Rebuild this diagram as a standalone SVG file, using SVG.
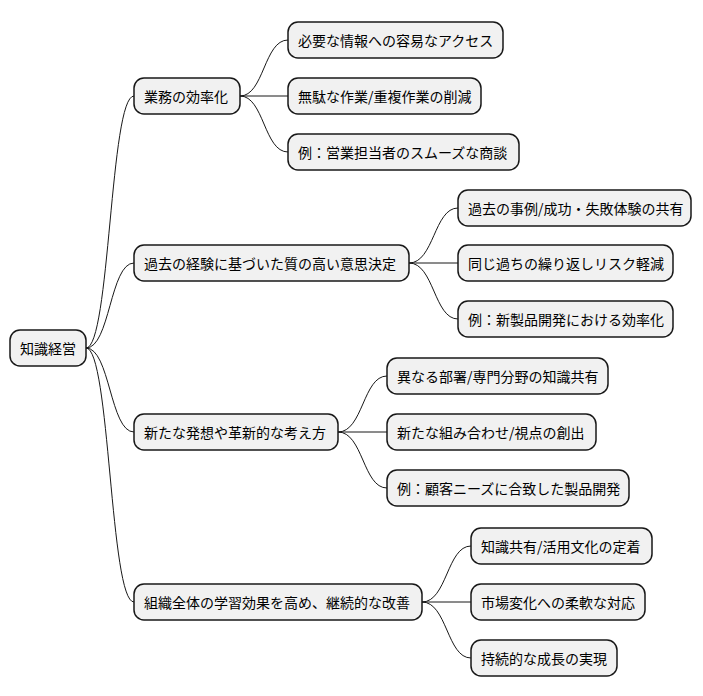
<svg xmlns="http://www.w3.org/2000/svg" width="703" height="696" viewBox="0 0 703 696">
<style>
rect{fill:#F1F1F1;stroke:#181818;stroke-width:1.5}
text{font-family:"Noto Sans CJK JP","Noto Sans CJK SC",sans-serif;font-size:14px;fill:#000;dominant-baseline:central}
#edges path{fill:none;stroke:#181818;stroke-width:1}
</style>
<rect width="703" height="696" style="fill:#fff;stroke:none"/>
<g id="edges">
<path d="M86 348 C110 348 110 96 134 96"/>
<path d="M86 348 C110 348 110 263 134 263"/>
<path d="M86 348 C110 348 110 432 134 432"/>
<path d="M86 348 C110 348 110 602 134 602"/>
<path d="M240 96 C264 96 264 40 288 40"/>
<path d="M240 96 L288 96"/>
<path d="M240 96 C264 96 264 152 288 152"/>
<path d="M409 263 C434 263 434 208 458 208"/>
<path d="M409 263 L458 263"/>
<path d="M409 263 C434 263 434 319 458 319"/>
<path d="M338 432 C363 432 363 376 387 376"/>
<path d="M338 432 L387 432"/>
<path d="M338 432 C363 432 363 488 387 488"/>
<path d="M422 602 C447 602 447 546 471 546"/>
<path d="M422 602 L471 602"/>
<path d="M422 602 C447 602 447 658 471 658"/>
</g>
<g id="root"><rect x="10" y="330" width="76" height="36" rx="10"/><text x="20" y="348">知識経営</text></g>
<g id="n1"><rect x="134" y="78" width="106" height="36" rx="10"/><text x="144" y="96">業務の効率化</text></g>
<g id="n2"><rect x="134" y="245" width="275" height="36" rx="10"/><text x="144" y="263">過去の経験に基づいた質の高い意思決定</text></g>
<g id="n3"><rect x="134" y="414" width="204" height="36" rx="10"/><text x="144" y="432">新たな発想や革新的な考え方</text></g>
<g id="n4"><rect x="134" y="584" width="288" height="36" rx="10"/><text x="144" y="602">組織全体の学習効果を高め、継続的な改善</text></g>
<g id="n1a"><rect x="288" y="22" width="215" height="36" rx="10"/><text x="298" y="40">必要な情報への容易なアクセス</text></g>
<g id="n1b"><rect x="288" y="78" width="193" height="36" rx="10"/><text x="298" y="96">無駄な作業/重複作業の削減</text></g>
<g id="n1c"><rect x="288" y="134" width="231" height="36" rx="10"/><text x="298" y="152">例：営業担当者のスムーズな商談</text></g>
<g id="n2a"><rect x="458" y="190" width="233" height="36" rx="10"/><text x="468" y="208">過去の事例/成功・失敗体験の共有</text></g>
<g id="n2b"><rect x="458" y="245" width="215" height="36" rx="10"/><text x="468" y="263">同じ過ちの繰り返しリスク軽減</text></g>
<g id="n2c"><rect x="458" y="301" width="215" height="36" rx="10"/><text x="468" y="319">例：新製品開発における効率化</text></g>
<g id="n3a"><rect x="387" y="358" width="221" height="36" rx="10"/><text x="397" y="376">異なる部署/専門分野の知識共有</text></g>
<g id="n3b"><rect x="387" y="414" width="209" height="36" rx="10"/><text x="397" y="432">新たな組み合わせ/視点の創出</text></g>
<g id="n3c"><rect x="387" y="470" width="242" height="36" rx="10"/><text x="397" y="488">例：顧客ニーズに合致した製品開発</text></g>
<g id="n4a"><rect x="471" y="528" width="181" height="36" rx="10"/><text x="481" y="546">知識共有/活用文化の定着</text></g>
<g id="n4b"><rect x="471" y="584" width="174" height="36" rx="10"/><text x="481" y="602">市場変化への柔軟な対応</text></g>
<g id="n4c"><rect x="471" y="640" width="146" height="36" rx="10"/><text x="481" y="658">持続的な成長の実現</text></g>
</svg>
